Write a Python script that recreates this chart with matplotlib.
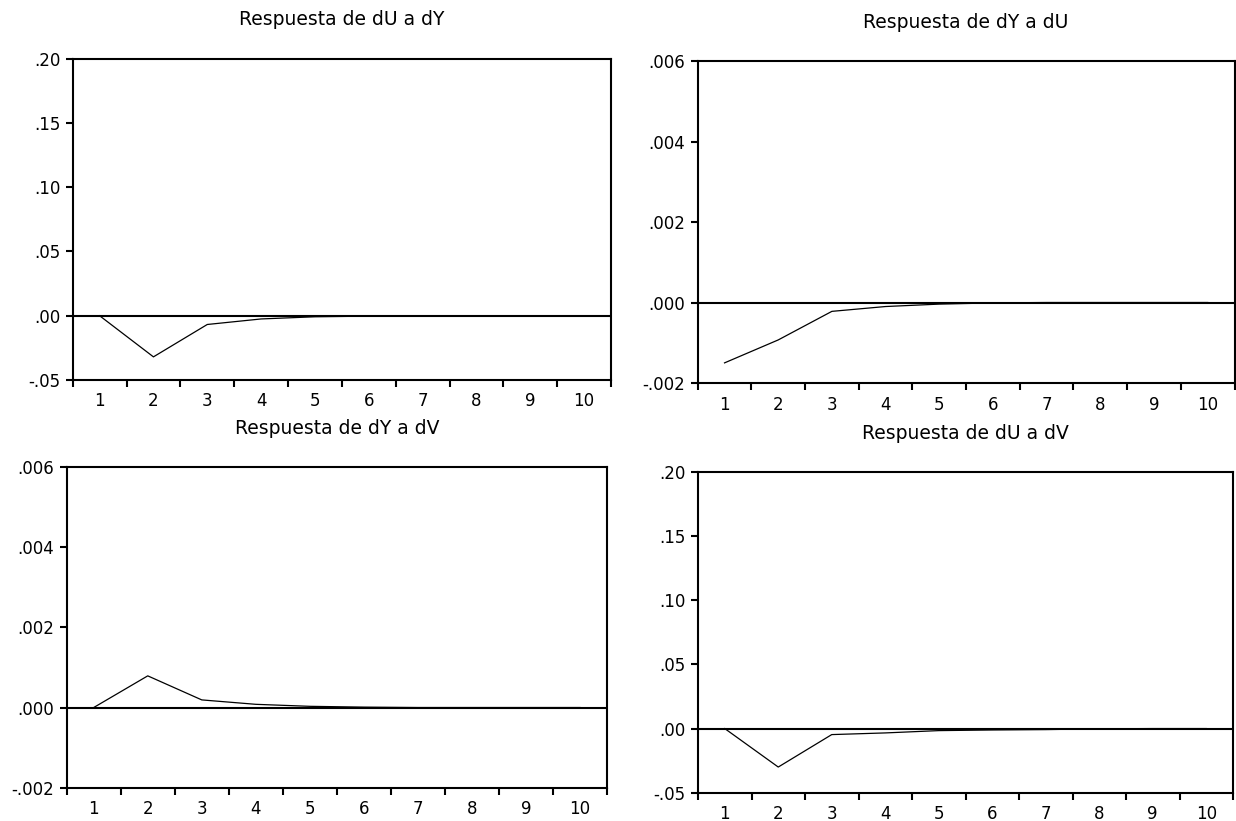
import numpy as np
import matplotlib
matplotlib.use("Agg")
import matplotlib.pyplot as plt
from matplotlib.ticker import FixedLocator, NullFormatter, FixedFormatter

plt.rcParams['font.family'] = ['DejaVu Sans']

periods = np.arange(1, 11)
period_labels = [str(p) for p in periods]

# impulse responses
resp_du_dy = [0.0, -0.032, -0.0068, -0.0025, -0.0008, -0.0003, -0.0001, 0.0, 0.0, 0.0]
resp_dy_du = [-0.0015, -0.00093, -0.00022, -0.0001, -0.00004, -0.00001, 0.0, 0.0, 0.0, 0.0]
resp_dy_dv = [0.0, 0.00079, 0.00019, 0.00008, 0.00003, 0.00001, 0.0, 0.0, 0.0, 0.0]
resp_du_dv = [0.0, -0.030, -0.0047, -0.0034, -0.0016, -0.0011, -0.0008, -0.0002, 0.0, 0.0]

ticks_u = [-0.05, 0.0, 0.05, 0.10, 0.15, 0.20]
labels_u = ["-.05", ".00", ".05", ".10", ".15", ".20"]
ticks_y = [-0.002, 0.0, 0.002, 0.004, 0.006]
labels_y = ["-.002", ".000", ".002", ".004", ".006"]

W, H = 1236, 821
fig = plt.figure(figsize=(W / 100, H / 100), dpi=100)

# boxes in pixels: left, right, top, bottom
panels = [
    ("Respuesta de dU a dY", resp_du_dy, ticks_u, labels_u, (72.7, 611, 58.7, 380)),
    ("Respuesta de dY a dU", resp_dy_du, ticks_y, labels_y, (697.7, 1234.5, 61, 383)),
    ("Respuesta de dY a dV", resp_dy_dv, ticks_y, labels_y, (66.7, 607, 467, 787.7)),
    ("Respuesta de dU a dV", resp_du_dv, ticks_u, labels_u, (698, 1233, 472, 792.7)),
]

for title, vals, yt, yl, (l, r, t, b) in panels:
    ax = fig.add_axes([l / W, 1 - b / H, (r - l) / W, (b - t) / H])
    ax.plot(periods, vals, color='black', lw=0.9)
    ax.axhline(0, color='black', lw=1.5)
    ax.set_xlim(0.5, 10.5)
    ax.set_ylim(yt[0], yt[-1])
    ax.set_yticks(yt)
    ax.set_yticklabels(yl)
    # boundaries get the tick marks, labels sit in the middle
    ax.xaxis.set_major_locator(FixedLocator(np.arange(0.5, 11, 1)))
    ax.xaxis.set_major_formatter(NullFormatter())
    ax.xaxis.set_minor_locator(FixedLocator(periods))
    ax.xaxis.set_minor_formatter(FixedFormatter(period_labels))
    ax.tick_params(axis='x', which='major', direction='out', length=5, width=1.5)
    ax.tick_params(axis='x', which='minor', length=0, pad=9, labelsize=12)
    ax.tick_params(axis='y', direction='out', length=5, width=1.5, pad=4, labelsize=12)
    for s in ax.spines.values():
        s.set_linewidth(1.5)
    fig.text((l + r) / 2 / W, 1 - (t - 39) / H, title, ha='center', va='center', fontsize=13.5)

fig.savefig("out.png", dpi=100)
